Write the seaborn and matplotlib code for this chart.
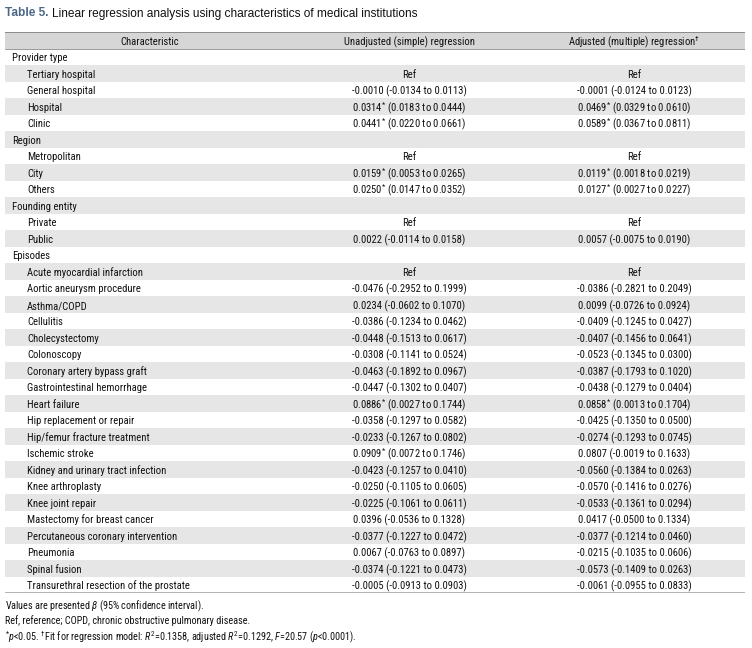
"""
Table 5 re-drawn as a figure: linear regression by characteristics of medical institutions.
"""

import matplotlib
matplotlib.use("Agg")
import matplotlib.pyplot as plt
from matplotlib import font_manager
import seaborn as sns
import numpy as np
import pandas as pd

sns.set_theme(style="white")

installed = {f.name for f in font_manager.fontManager.ttflist}
NARROW, FS = "Liberation Sans", 7.3
for cand in ["Liberation Sans Narrow", "Roboto Condensed", "Open Sans Condensed", "Arial Narrow"]:
    if cand in installed:
        NARROW, FS = cand, 7.7
        break
plt.rcParams["font.family"] = [NARROW, "DejaVu Sans"]
plt.rcParams["mathtext.fontset"] = "custom"
plt.rcParams["mathtext.rm"] = NARROW
plt.rcParams["mathtext.it"] = NARROW + ":italic"
plt.rcParams["mathtext.bf"] = NARROW + ":bold"

# ---- data -------------------------------------------------------------
labels = [
    "Provider type", "Tertiary hospital", "General hospital", "Hospital", "Clinic",
    "Region", "Metropolitan", "City", "Others",
    "Founding entity", "Private", "Public",
    "Episodes", "Acute myocardial infarction", "Aortic aneurysm procedure",
    "Asthma/COPD", "Cellulitis", "Cholecystectomy", "Colonoscopy",
    "Coronary artery bypass graft", "Gastrointestinal hemorrhage", "Heart failure",
    "Hip replacement or repair", "Hip/femur fracture treatment", "Ischemic stroke",
    "Kidney and urinary tract infection", "Knee arthroplasty", "Knee joint repair",
    "Mastectomy for breast cancer", "Percutaneous coronary intervention",
    "Pneumonia", "Spinal fusion", "Transurethral resection of the prostate",
]
# g = group heading, r = reference category, v = estimate row
kind = list("grvvv" "grvv" "grv" "gr" + "v" * 19)

nan = np.nan
unadj_beta = [nan, nan, -0.0010, 0.0314, 0.0441, nan, nan, 0.0159, 0.0250, nan, nan, 0.0022,
              nan, nan, -0.0476, 0.0234, -0.0386, -0.0448, -0.0308, -0.0463, -0.0447, 0.0886,
              -0.0358, -0.0233, 0.0909, -0.0423, -0.0250, -0.0225, 0.0396, -0.0377, 0.0067,
              -0.0374, -0.0005]
unadj_lo = [nan, nan, -0.0134, 0.0183, 0.0220, nan, nan, 0.0053, 0.0147, nan, nan, -0.0114,
            nan, nan, -0.2952, -0.0602, -0.1234, -0.1513, -0.1141, -0.1892, -0.1302, 0.0027,
            -0.1297, -0.1267, 0.0072, -0.1257, -0.1105, -0.1061, -0.0536, -0.1227, -0.0763,
            -0.1221, -0.0913]
unadj_hi = [nan, nan, 0.0113, 0.0444, 0.0661, nan, nan, 0.0265, 0.0352, nan, nan, 0.0158,
            nan, nan, 0.1999, 0.1070, 0.0462, 0.0617, 0.0524, 0.0967, 0.0407, 0.1744,
            0.0582, 0.0802, 0.1746, 0.0410, 0.0605, 0.0611, 0.1328, 0.0472, 0.0897,
            0.0473, 0.0903]
adj_beta = [nan, nan, -0.0001, 0.0469, 0.0589, nan, nan, 0.0119, 0.0127, nan, nan, 0.0057,
            nan, nan, -0.0386, 0.0099, -0.0409, -0.0407, -0.0523, -0.0387, -0.0438, 0.0858,
            -0.0425, -0.0274, 0.0807, -0.0560, -0.0570, -0.0533, 0.0417, -0.0377, -0.0215,
            -0.0573, -0.0061]
adj_lo = [nan, nan, -0.0124, 0.0329, 0.0367, nan, nan, 0.0018, 0.0027, nan, nan, -0.0075,
          nan, nan, -0.2821, -0.0726, -0.1245, -0.1456, -0.1345, -0.1793, -0.1279, 0.0013,
          -0.1350, -0.1293, -0.0019, -0.1384, -0.1416, -0.1361, -0.0500, -0.1214, -0.1035,
          -0.1409, -0.0955]
adj_hi = [nan, nan, 0.0123, 0.0610, 0.0811, nan, nan, 0.0219, 0.0227, nan, nan, 0.0190,
          nan, nan, 0.2049, 0.0924, 0.0427, 0.0641, 0.0300, 0.1020, 0.0404, 0.1704,
          0.0500, 0.0745, 0.1633, 0.0263, 0.0276, 0.0294, 0.1334, 0.0460, 0.0606,
          0.0263, 0.0833]

df = pd.DataFrame({
    "label": labels, "kind": kind,
    "u_b": unadj_beta, "u_lo": unadj_lo, "u_hi": unadj_hi,
    "a_b": adj_beta, "a_lo": adj_lo, "a_hi": adj_hi,
})
df["row"] = np.arange(len(df))


def cell(b, lo, hi, k):
    if k == "g":
        return ""
    if k == "r":
        return "Ref"
    star = r"$^{*}$" if lo > 0 or hi < 0 else ""
    return f"{b:.4f}{star} ({lo:.4f} to {hi:.4f})"


df["unadj"] = [cell(b, l, h, k) for b, l, h, k in zip(df.u_b, df.u_lo, df.u_hi, df.kind)]
df["adj"] = [cell(b, l, h, k) for b, l, h, k in zip(df.a_b, df.a_lo, df.a_hi, df.kind)]

# ---- figure -----------------------------------------------------------
W, H = 752, 648
fig = plt.figure(figsize=(W / 100, H / 100), dpi=100)
top_px, bot_px = 32.25, 593.3
ax = fig.add_axes([5 / W, 1 - bot_px / H, 740 / W, (bot_px - top_px) / H])
n = len(df)
ax.set_xlim(0, 740)
ax.set_ylim(n - 0.5, -1.5)
ax.axis("off")


def snap(y):
    # keep every baseline on a whole pixel so rows do not wobble
    px = ax.transData.transform((0, y))[1]
    return ax.transData.inverted().transform((0, round(px)))[1]


TXT = "#111111"
ax.axhspan(-1.5, -0.5, color="#d6d6d6", lw=0, zorder=0)
for r in df.row[df.row % 2 == 1]:
    ax.axhspan(r - 0.5, r + 0.5, color="#e6e6e6", lw=0, zorder=0)

ax.axhline(-1.5, color="#8a8a8a", lw=1.4, zorder=3)
ax.axhline(-0.5, color="#9a9a9a", lw=0.7, zorder=3)
ax.axhline(n - 0.5, color="#9a9a9a", lw=1.8, zorder=3)

cols_x = {"label": 145, "unadj": 404, "adj": 629}
base = 0.26
yh = snap(-1 + base)
ax.text(cols_x["label"], yh, "Characteristic", ha="center", va="baseline", fontsize=FS, color=TXT)
ax.text(cols_x["unadj"], yh, "Unadjusted (simple) regression", ha="center", va="baseline",
        fontsize=FS, color=TXT)
ax.text(cols_x["adj"], yh, r"Adjusted (multiple) regression$^{\dagger}$", ha="center",
        va="baseline", fontsize=FS, color=TXT)

for _, rw in df.iterrows():
    x = 7 if rw.kind == "g" else 22
    y = snap(rw.row + base)
    ax.text(x, y, rw.label, ha="left", va="baseline", fontsize=FS, color=TXT)
    if rw.unadj:
        ax.text(cols_x["unadj"], y, rw.unadj, ha="center", va="baseline", fontsize=FS, color=TXT)
        ax.text(cols_x["adj"], y, rw.adj, ha="center", va="baseline", fontsize=FS, color=TXT)

# title
t1 = fig.text(5 / W, 1 - 16.5 / H, "Table 5.", fontsize=8.6, fontweight="bold",
              color="#4d6788", family=["Liberation Sans", "DejaVu Sans"], va="baseline")
fig.canvas.draw()
bb = t1.get_window_extent(fig.canvas.get_renderer())
fig.text((bb.x1 + 4) / W, 1 - 16.5 / H,
         "Linear regression analysis using characteristics of medical institutions",
         fontsize=8.6, color="#111111", family=["Liberation Sans", "DejaVu Sans"], va="baseline")

# footnotes
notes = [
    r"Values are presented $\it{\beta}$ (95% confidence interval).",
    "Ref, reference; COPD, chronic obstructive pulmonary disease.",
    r"$^{*}$$\it{p}$<0.05. $^{\dagger}$Fit for regression model: $\it{R}^{2}$=0.1358, adjusted "
    r"$\it{R}^{2}$=0.1292, $\it{F}$=20.57 ($\it{p}$<0.0001).",
]
for k, s in enumerate(notes):
    fig.text(5 / W, 1 - (609 + 15.5 * k) / H, s, fontsize=7.3, color=TXT, va="baseline")

fig.savefig("out.png", dpi=100)
